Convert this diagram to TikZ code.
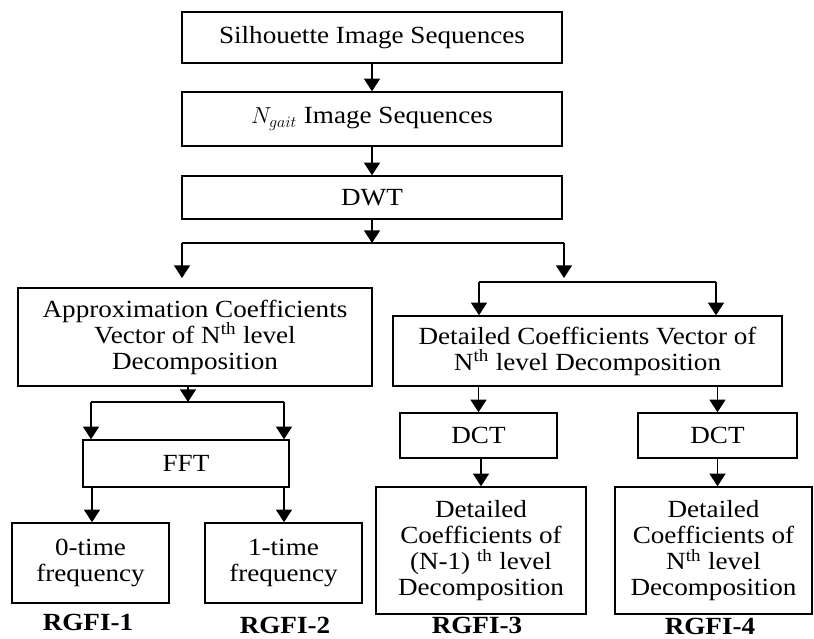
\documentclass[tikz,border=0pt]{standalone}
\usepackage{fontspec}
\setmainfont{Liberation Serif}[FakeStretch=1.1]
\usetikzlibrary{arrows.meta}
\begin{document}
\begin{tikzpicture}[x=0.75pt,y=-0.75pt,
  box/.style={draw, line width=1.1pt, rectangle, inner sep=0pt, align=center,
    font=\fontsize{18.5}{19.5}\selectfont},
  lbl/.style={font=\fontsize{18.5}{19.5}\selectfont\bfseries, inner sep=0pt},
  arr/.style={line width=1.1pt, -{Triangle[width=12pt,length=9.5pt]}},
  ln/.style={line width=1.1pt}]
\useasboundingbox (0,0) rectangle (814,639);
% boxes
\node[box, minimum width=380*0.75pt, minimum height=51*0.75pt] (sil) at (372,37.5) {Silhouette Image Sequences};
\node[box, minimum width=380*0.75pt, minimum height=54*0.75pt] (ng) at (372,119) {$N_{gait}$ Image Sequences};
\node[box, minimum width=380*0.75pt, minimum height=43*0.75pt] (dwt) at (372,197.5) {DWT};
\node[box, minimum width=354*0.75pt, minimum height=98*0.75pt] (app) at (195,337) {Approximation Coefficients\\Vector of N\textsuperscript{th} level\\Decomposition};
\node[box, minimum width=389*0.75pt, minimum height=70*0.75pt] (det) at (587.5,351) {Detailed Coefficients Vector of\\N\textsuperscript{th} level Decomposition};
\node[box, minimum width=206*0.75pt, minimum height=47*0.75pt] (fft) at (186,463.5) {FFT};
\node[box, minimum width=157*0.75pt, minimum height=80*0.75pt] (t0) at (90.5,563) {0-time\\frequency};
\node[box, minimum width=157*0.75pt, minimum height=80*0.75pt] (t1) at (283.5,563) {1-time\\frequency};
\node[box, minimum width=157*0.75pt, minimum height=45*0.75pt] (dct1) at (478.5,435.5) {DCT};
\node[box, minimum width=159*0.75pt, minimum height=45*0.75pt] (dct2) at (717.5,435.5) {DCT};
\node[box, minimum width=210*0.75pt, minimum height=127*0.75pt] (dn1) at (481,550.5) {Detailed\\Coefficients of\\(N-1) \textsuperscript{th} level\\Decomposition};
\node[box, minimum width=197*0.75pt, minimum height=127*0.75pt] (dn) at (713.5,550.5) {Detailed\\Coefficients of\\N\textsuperscript{th} level\\Decomposition};
% labels
\node[lbl] (r1) at (88,622) {RGFI-1};
\node[lbl] (r2) at (285,625) {RGFI-2};
\node[lbl] (r3) at (477,625) {RGFI-3};
\node[lbl] (r4) at (710,626) {RGFI-4};
% coordinates
\coordinate (s1) at (372,243);
\coordinate (s1l) at (182,243);
\coordinate (s1r) at (564,243);
\coordinate (a1) at (182,278);
\coordinate (a2) at (564,278);
\coordinate (s2l) at (479,282);
\coordinate (s2r) at (716,282);
\coordinate (s3) at (188,402);
\coordinate (s3l) at (91,402);
\coordinate (s3r) at (284,402);
% connectors
\draw[arr] (sil) -- (ng);
\draw[arr] (ng) -- (dwt);
\draw[arr] (dwt.south) -- (s1);
\draw[ln] (s1l) -- (s1r);
\draw[arr] (s1l) -- (a1);
\draw[arr] (s1r) -- (a2);
\draw[ln] (s2l) -- (s2r);
\draw[arr] (s2l) -- (s2l |- det.north);
\draw[arr] (s2r) -- (s2r |- det.north);
\draw[arr] (s3 |- app.south) -- (s3);
\draw[ln] (s3l) -- (s3r);
\draw[arr] (s3l) -- (s3l |- fft.north);
\draw[arr] (s3r) -- (s3r |- fft.north);
\draw[arr] ([xshift=-94*0.75pt]fft.south) -- ([xshift=-94*0.75pt]fft.south |- t0.north);
\draw[arr] ([xshift=98*0.75pt]fft.south) -- ([xshift=98*0.75pt]fft.south |- t1.north);
\draw[arr] (det.south -| dct1) -- (dct1);
\draw[arr] (det.south -| dct2) -- (dct2);
\draw[arr] (dct1.south -| dn1) -- (dn1);
\draw[arr] (dct2) -- (dct2 |- dn.north);
\end{tikzpicture}
\end{document}
